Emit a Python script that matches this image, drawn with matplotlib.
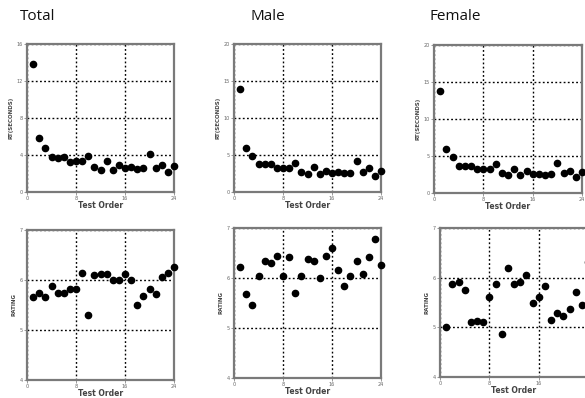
import matplotlib.pyplot as plt
import numpy as np

# test order 1..24
order = np.arange(1, 25)

rt_total = [13.8, 5.8, 4.8, 3.8, 3.7, 3.8, 3.2, 3.4, 3.4, 3.9, 2.7, 2.4,
            3.3, 2.4, 2.9, 2.6, 2.7, 2.5, 2.6, 4.1, 2.6, 2.9, 2.2, 2.8]
rt_male = [13.9, 5.9, 4.8, 3.75, 3.75, 3.75, 3.2, 3.25, 3.25, 3.9, 2.7, 2.4,
           3.4, 2.4, 2.9, 2.6, 2.7, 2.6, 2.6, 4.2, 2.7, 3.2, 2.2, 2.9]
rt_female = [13.8, 5.9, 4.8, 3.7, 3.7, 3.7, 3.2, 3.3, 3.3, 3.9, 2.7, 2.4,
             3.3, 2.4, 3.0, 2.6, 2.6, 2.4, 2.6, 4.1, 2.7, 3.0, 2.2, 2.8]

rating_total = [5.67, 5.75, 5.67, 5.89, 5.75, 5.75, 5.82, 5.82, 6.15, 5.31, 6.1, 6.13,
                6.13, 6.0, 6.0, 6.13, 6.0, 5.51, 5.69, 5.82, 5.73, 6.07, 6.15, 6.27]
rating_male = [6.23, 5.68, 5.46, 6.05, 6.34, 6.3, 6.45, 6.04, 6.42, 5.71, 6.04, 6.39,
               6.35, 6.01, 6.45, 6.6, 6.16, 5.85, 6.05, 6.35, 6.09, 6.42, 6.79, 6.27]
rating_female = [5.0, 5.88, 5.92, 5.75, 5.1, 5.13, 5.1, 5.62, 5.88, 4.87, 6.2, 5.88,
                 5.92, 6.06, 5.48, 5.62, 5.83, 5.14, 5.28, 5.23, 5.36, 5.71, 5.45, 6.32]

titles = ["Total", "Male", "Female"]
x_ticks = [0, 8, 16, 24]
rt_ticks = [[0, 4, 8, 12, 16], [0, 5, 10, 15, 20], [0, 5, 10, 15, 20]]
rating_ticks = [4, 5, 6, 7]

W, H = 585, 398
plt.rcParams['font.family'] = ['DejaVu Sans']
fig = plt.figure(figsize=(W / 100, H / 100), dpi=100)

# axes boxes in pixels: left, top, right, bottom
top_boxes = [(27, 44, 174, 192), (234, 44, 381, 192), (434, 45, 582, 193)]
bot_boxes = [(27, 230, 174, 380), (234, 228, 381, 378), (440, 228, 588, 377)]


def make_ax(box):
    l, t, r, b = box
    return fig.add_axes([l / W, 1 - b / H, (r - l) / W, (b - t) / H])


def style(ax, yticks, ylabel):
    ax.set_xlim(0, 24)
    ax.set_ylim(yticks[0], yticks[-1])
    ax.set_xticks(x_ticks)
    ax.set_yticks(yticks)
    ax.grid(True, color="black", linestyle=(0, (1.3, 1.7)), linewidth=1.0)
    for s in ax.spines.values():
        s.set_color("#7a7a7a")
        s.set_linewidth(1.6)
    ax.tick_params(labelsize=3.5, colors="#888888", length=2, width=0.6, pad=1.2,
                   labelcolor="#666666")
    ax.set_xlabel("Test Order", fontsize=5.5, color="#444444", fontweight="bold", labelpad=0)
    ax.set_ylabel(ylabel, fontsize=4, color="#444444", fontweight="bold", labelpad=2)


rt_data = [rt_total, rt_male, rt_female]
rating_data = [rating_total, rating_male, rating_female]

for i in range(3):
    ax = make_ax(top_boxes[i])
    ax.plot(order, rt_data[i], "o", color="black", markersize=4.5, clip_on=False, zorder=5)
    style(ax, rt_ticks[i], "RT(SECONDS)")

    ax = make_ax(bot_boxes[i])
    ax.plot(order, rating_data[i], "o", color="black", markersize=4.5, clip_on=False, zorder=5)
    style(ax, rating_ticks, "RATING")

title_x = [38, 268, 455]
for tx, name in zip(title_x, titles):
    fig.text(tx / W, 1 - 16 / H, name, fontsize=11, ha="center", va="center",
             family="Open Sans", color="#111111")

fig.savefig("out.png", dpi=100)
